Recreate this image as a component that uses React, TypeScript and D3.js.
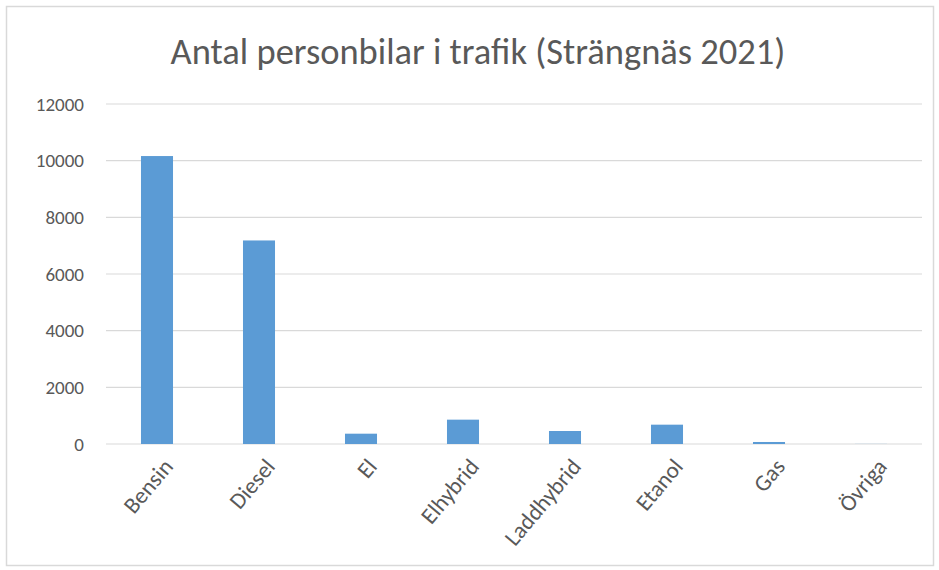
import { scaleBand, scaleLinear } from 'd3'

const WIDTH = 939
const HEIGHT = 570
const MARGIN = { top: 104, right: 17, bottom: 126, left: 106 }
const INNER_WIDTH = WIDTH - MARGIN.left - MARGIN.right
const INNER_HEIGHT = 444 - MARGIN.top

const TITLE = 'Antal personbilar i trafik (Strängnäs 2021)'
const categories = ['Bensin', 'Diesel', 'El', 'Elhybrid', 'Laddhybrid', 'Etanol', 'Gas', 'Övriga']
const values = [10163, 7184, 364, 859, 459, 682, 71, 3]
const yTicks = [0, 2000, 4000, 6000, 8000, 10000, 12000]

const FONT = "Carlito, Calibri, 'Open Sans', 'Noto Sans', sans-serif"
const BAR_COLOR = '#5b9bd5'
const TEXT_COLOR = '#595959'

export default function App() {
  const x = scaleBand<string>().domain(categories).range([0, INNER_WIDTH]).paddingInner(0.686).paddingOuter(0.343)
  const y = scaleLinear().domain([0, 12000]).range([INNER_HEIGHT, 0])

  return (
    <svg width={WIDTH} height={HEIGHT} style={{ position: 'absolute', left: 0, top: 0 }} fontFamily={FONT}>
      <rect x={0} y={0} width={WIDTH} height={HEIGHT} fill="#fff" />
      <rect x={6.5} y={6.5} width={927} height={559} fill="none" stroke="#d9d9d9" strokeWidth={1.5} />
      <text x={478} y={64} textAnchor="middle" fontSize={36.5} fill={TEXT_COLOR}>
        {TITLE}
      </text>
      <g transform={`translate(${MARGIN.left}, ${MARGIN.top})`}>
        {yTicks.map((t) => (
          <g key={t}>
            <line x1={0} x2={INNER_WIDTH} y1={y(t)} y2={y(t)} stroke="#d9d9d9" strokeWidth={1.2} />
            <text x={-22} y={y(t)} dy="0.35em" textAnchor="end" fontSize={19} fill={TEXT_COLOR}>
              {t}
            </text>
          </g>
        ))}
        {categories.map((c, i) => (
          <rect
            key={c}
            x={x(c)}
            y={y(values[i])}
            width={x.bandwidth()}
            height={INNER_HEIGHT - y(values[i])}
            fill={BAR_COLOR}
          />
        ))}
        {categories.map((c) => {
          const cx = (x(c) ?? 0) + x.bandwidth() / 2
          return (
            <text
              key={c}
              transform={`translate(${cx + 11}, ${INNER_HEIGHT + 18}) rotate(-50)`}
              textAnchor="end"
              dy="0.35em"
              fontSize={23}
              fill={TEXT_COLOR}
            >
              {c}
            </text>
          )
        })}
      </g>
    </svg>
  )
}
